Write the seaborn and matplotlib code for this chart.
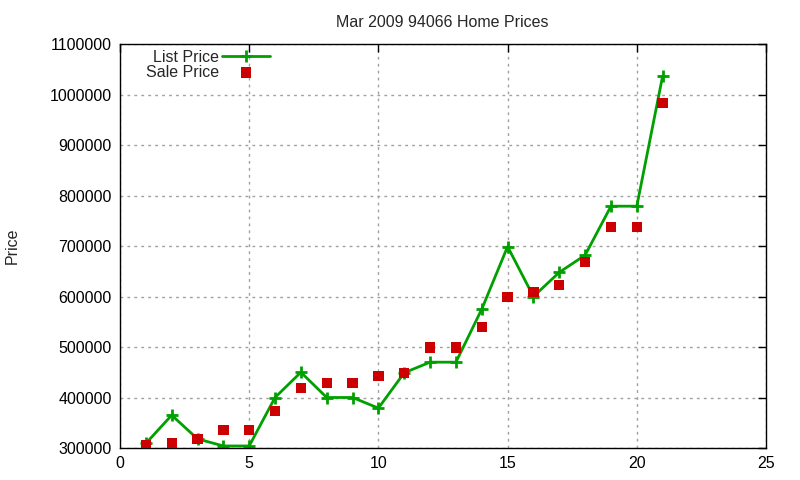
import pandas as pd
import matplotlib
matplotlib.use("Agg")
import matplotlib.pyplot as plt
import seaborn as sns

# data
house = list(range(1, 22))
list_price = [309000, 365000, 318000, 304000, 304000, 400000, 450000, 400000, 400000, 379000,
              449000, 470000, 470000, 575000, 699000, 600000, 648000, 682000, 779000, 779000, 1037000]
sale_price = [305000, 310000, 318000, 336000, 336000, 373000, 419000, 429000, 429000, 443000,
              449000, 499000, 499000, 540000, 599000, 609000, 623000, 669000, 738000, 738000, 983000]

df = pd.DataFrame({"house": house, "list": list_price, "sale": sale_price})

sns.set_style("white")
plt.rcParams['font.family'] = ['Liberation Sans', 'DejaVu Sans']

fig = plt.figure(figsize=(8, 4.8), dpi=100)
ax = fig.add_axes([0.15, 0.0667, 0.8075, 0.8413])

sns.lineplot(data=df, x="house", y="list", ax=ax, color="#00a000", linewidth=2,
             marker="+", markersize=9, markeredgewidth=2, markeredgecolor="#00a000",
             label="List Price")
sns.scatterplot(data=df, x="house", y="sale", ax=ax, color="#cc0000", marker="s",
                s=55, edgecolor="none", linewidth=0, label="Sale Price", zorder=3)

ax.set_xlim(0, 25)
ax.set_ylim(300000, 1100000)
ax.set_xticks(range(0, 26, 5))
ax.set_yticks(range(300000, 1100001, 100000))
ax.set_yticklabels([str(v) for v in range(300000, 1100001, 100000)])
ax.grid(True, color="#a0a0a0", linestyle=(0, (2, 3)), linewidth=1)
ax.tick_params(direction="in", length=6, width=1, labelsize=11.5, top=True, right=True,
               colors="black", pad=6)
for s in ax.spines.values():
    s.set_color("black")
    s.set_linewidth(1)
ax.set_xlabel("")
ax.set_ylabel("Price", fontsize=11.5)
ax.yaxis.set_label_coords(-0.155, 0.5)
fig.suptitle("Mar 2009 94066 Home Prices", fontsize=11.5, x=0.553, y=0.968)

leg = ax.legend(loc="upper left", frameon=False, markerfirst=False, fontsize=11.5,
                handlelength=3.0, handletextpad=0.2, borderaxespad=0.0, labelspacing=0.0,
                bbox_to_anchor=(0.03, 1.002))
for t in leg.get_texts():
    t.set_ha("right")

fig.savefig("out.png", dpi=100)
